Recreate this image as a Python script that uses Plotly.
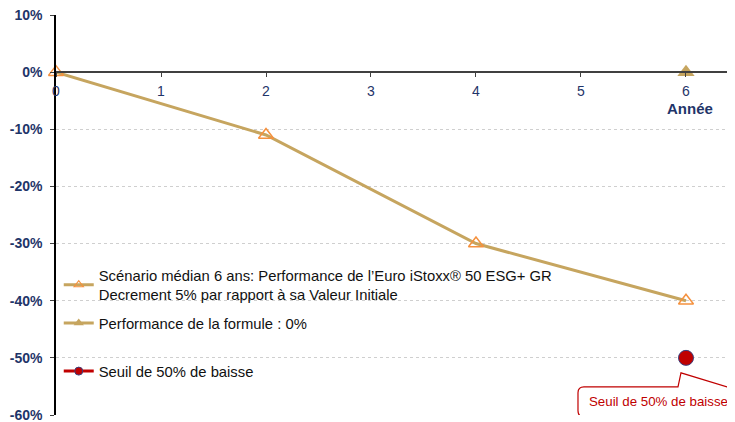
import plotly.graph_objects as go

# ---- data ----
years = [0, 2, 4, 6]
scenario = [0, -11, -30, -40]
formula_x = [6]
formula_y = [0]
seuil_x = [6]
seuil_y = [-50]
x_ticks = [0, 1, 2, 3, 4, 5, 6]
y_ticks = [10, 0, -10, -20, -30, -40, -50, -60]
y_labels = ["10%", "0%", "-10%", "-20%", "-30%", "-40%", "-50%", "-60%"]
name1 = "Scénario médian 6 ans: Performance de l’Euro iStoxx® 50 ESG+ GR<br>Decrement 5% par rapport à sa Valeur Initiale"
name2 = "Performance de la formule : 0%"
name3 = "Seuil de 50% de baisse"
callout = "Seuil de 50% de baisse"

TAN = "#C6A55F"
ORANGE = "#F5913E"
RED = "#C00000"
NAVY = "#1F3569"
FONT = "Liberation Sans, Arial, sans-serif"

fig = go.Figure()
# data traces (legend entries drawn by legend-only twins with smaller symbols)
fig.add_trace(go.Scatter(
    x=years, y=scenario, name=name1, mode="lines+markers", showlegend=False,
    line=dict(color=TAN, width=3),
    marker=dict(symbol="triangle-up-open", color=ORANGE, size=13, line=dict(width=1.5, color=ORANGE)),
    cliponaxis=False))
fig.add_trace(go.Scatter(
    x=formula_x, y=formula_y, name=name2, mode="lines+markers", showlegend=False,
    line=dict(color=TAN, width=3),
    marker=dict(symbol="triangle-up", color=TAN, size=15),
    cliponaxis=False))
fig.add_trace(go.Scatter(
    x=seuil_x, y=seuil_y, name=name3, mode="lines+markers", showlegend=False,
    line=dict(color=RED, width=3),
    marker=dict(symbol="circle", color=RED, size=15, line=dict(width=1, color="#3B3F7E")),
    cliponaxis=False))

# legend entries
fig.add_trace(go.Scatter(
    x=[None], y=[None], name=name1, mode="lines+markers", legend="legend",
    line=dict(color=TAN, width=3),
    marker=dict(symbol="triangle-up-open", color=ORANGE, size=8, line=dict(width=1.2, color=ORANGE))))
fig.add_trace(go.Scatter(
    x=[None], y=[None], name=name2, mode="lines+markers", legend="legend2",
    line=dict(color=TAN, width=3),
    marker=dict(symbol="triangle-up", color=TAN, size=9)))
fig.add_trace(go.Scatter(
    x=[None], y=[None], name=name3, mode="lines+markers", legend="legend3",
    line=dict(color=RED, width=3),
    marker=dict(symbol="circle", color=RED, size=8, line=dict(width=1, color="#3B3F7E"))))

# callout bubble
fig.add_shape(
    type="path", xref="x", yref="y", xsizemode="pixel", ysizemode="pixel",
    xanchor=seuil_x[0], yanchor=seuil_y[0],
    path="M -102,-29 L -8,-29 L -5,-15 L 41,-29 L 70,-29 L 70,-59 L -102,-59 "
         "Q -108,-59 -108,-53 L -108,-35 Q -108,-29 -102,-29 Z",
    line=dict(color=RED, width=1.2), fillcolor="white", layer="above")
fig.add_annotation(x=seuil_x[0], y=seuil_y[0], xref="x", yref="y", text=callout,
                   showarrow=False, xshift=-27, yshift=-44,
                   font=dict(family=FONT, size=13.3, color=RED))
fig.add_annotation(x=x_ticks[-1], y=0, xref="x", yref="y", text="<b>Année</b>",
                   showarrow=False, yshift=-36, xshift=4,
                   font=dict(family=FONT, size=15, color=NAVY))

leg_common = dict(bgcolor="rgba(0,0,0,0)", font=dict(family=FONT, size=14.8, color="#111111"),
                  itemwidth=30, xanchor="left", yanchor="top", x=0.004)
fig.update_layout(
    width=735, height=422,
    margin=dict(l=48, r=0, t=7, b=15),
    paper_bgcolor="white", plot_bgcolor="white",
    showlegend=True,
    legend=dict(y=0.39, **leg_common),
    legend2=dict(y=0.27, **leg_common),
    legend3=dict(y=0.15, **leg_common),
    xaxis=dict(range=[0, 6.543], tickvals=x_ticks, ticktext=[str(v) for v in x_ticks],
               anchor="free", position=60/70, showline=True, linecolor="#404040", linewidth=1.5,
               ticks="outside", ticklen=4, tickcolor="#404040", showgrid=False, zeroline=False,
               automargin=False, ticklabeloverflow="allow",
               tickfont=dict(family=FONT, size=14, color=NAVY), ticklabelstandoff=2),
    yaxis=dict(range=[-60, 10], tickvals=y_ticks, ticktext=[f"<b>{t}</b>" for t in y_labels],
               showline=True, linecolor="#000000", linewidth=1.5, ticks="outside", ticklen=4,
               tickcolor="#404040", showgrid=True, gridcolor="#CFCFCF", griddash="dot", gridwidth=1,
               zeroline=False, automargin=False, ticklabeloverflow="allow",
               tickfont=dict(family=FONT, size=14, color=NAVY), ticklabelstandoff=5),
)
fig.write_html("out.html")
